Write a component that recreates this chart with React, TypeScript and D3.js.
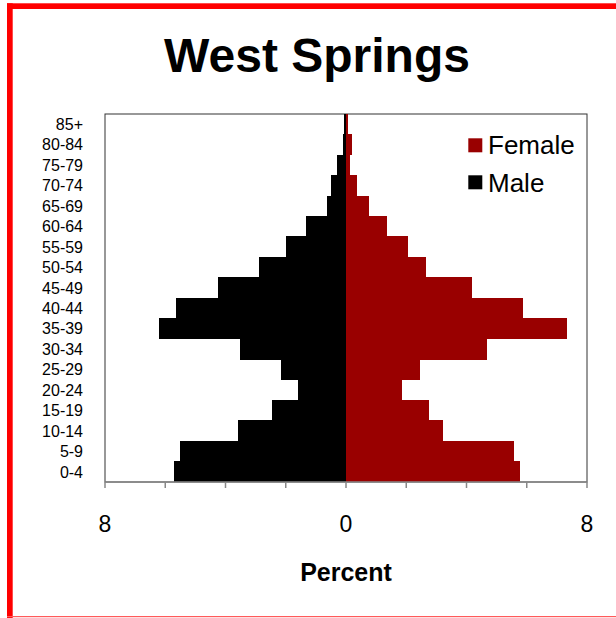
import React from "react";
import * as d3 from "d3";

const ageGroups = ["85+", "80-84", "75-79", "70-74", "65-69", "60-64", "55-59", "50-54", "45-49", "40-44", "35-39", "30-34", "25-29", "20-24", "15-19", "10-14", "5-9", "0-4"];
const maleValues = [0.05, 0.11, 0.31, 0.5, 0.64, 1.34, 1.98, 2.89, 4.24, 5.65, 6.22, 3.52, 2.16, 1.6, 2.44, 3.59, 5.51, 5.71];
const femaleValues = [0.08, 0.2, 0.13, 0.38, 0.78, 1.36, 2.06, 2.65, 4.18, 5.86, 7.33, 4.69, 2.44, 1.87, 2.77, 3.21, 5.59, 5.78];
const xTicks = [-8, -6, -4, -2, 0, 2, 4, 6, 8];
const xTickLabels = [-8, 0, 8];
const seriesNames = ["Female", "Male"];
const seriesColors = ["#990000", "#000000"];

const W = 616;
const H = 618;
const plot = { left: 105, right: 587, top: 114, bottom: 482 };
const font = "'Liberation Sans', Arial, sans-serif";

export default function App() {
  const x = d3.scaleLinear().domain([-8, 8]).range([plot.left, plot.right]);
  const y = d3.scaleBand().domain(ageGroups).range([plot.top, plot.bottom]).padding(0);
  const bw = y.bandwidth();

  return (
    <svg width={W} height={H} style={{ position: "absolute", left: 0, top: 0, background: "#fff" }} fontFamily={font}>
      <rect x={0} y={0} width={W} height={H} fill="#fff" />
      {/* red frame */}
      <rect x={7} y={3.3} width={W - 7} height={5.7} fill="#ff0000" />
      <rect x={7} y={3.3} width={5.7} height={H} fill="#ff0000" />
      <rect x={7} y={616} width={W - 7} height={1.2} fill="#ff5a5a" />

      <text x={317} y={71.5} textAnchor="middle" fontSize={48} fontWeight="bold" fill="#000">West Springs</text>

      {/* plot area */}
      <rect x={plot.left} y={plot.top} width={plot.right - plot.left} height={plot.bottom - plot.top} fill="#fff" stroke="#333" strokeWidth={1} />

      {ageGroups.map((g, i) => (
        <rect key={"m" + g} x={x(-maleValues[i])} y={(y(g) as number) - 0.2} width={x(0) - x(-maleValues[i])} height={bw + 0.4}
          fill={seriesColors[1]} shapeRendering="crispEdges" />
      ))}
      {ageGroups.map((g, i) => (
        <rect key={"f" + g} x={x(0)} y={(y(g) as number) - 0.2} width={x(femaleValues[i]) - x(0)} height={bw + 0.4}
          fill={seriesColors[0]} shapeRendering="crispEdges" />
      ))}

      {/* y labels */}
      {ageGroups.map((g) => (
        <text key={"l" + g} x={83} y={(y(g) as number) + bw / 2 + 5.8} textAnchor="end" fontSize={16} fill="#000">{g}</text>
      ))}

      {/* x axis */}
      <line x1={plot.left} x2={plot.right} y1={plot.bottom} y2={plot.bottom} stroke="#888" strokeWidth={1.5} />
      {xTicks.map((t) => (
        <line key={"t" + t} x1={x(t)} x2={x(t)} y1={plot.bottom} y2={plot.bottom + 6} stroke="#888" strokeWidth={1.5} />
      ))}
      {xTickLabels.map((t) => (
        <text key={"tl" + t} x={x(t)} y={531.5} textAnchor="middle" fontSize={23} fill="#000">{Math.abs(t)}</text>
      ))}
      <text x={346} y={581} textAnchor="middle" fontSize={25} fontWeight="bold" fill="#000">Percent</text>

      {/* legend */}
      {seriesNames.map((s, i) => (
        <g key={s}>
          <rect x={468.3} y={138.3 + i * 37} width={14} height={14} fill={seriesColors[i]} />
          <text x={488} y={154.3 + i * 37.4} fontSize={26} fill="#000">{s}</text>
        </g>
      ))}
    </svg>
  );
}
